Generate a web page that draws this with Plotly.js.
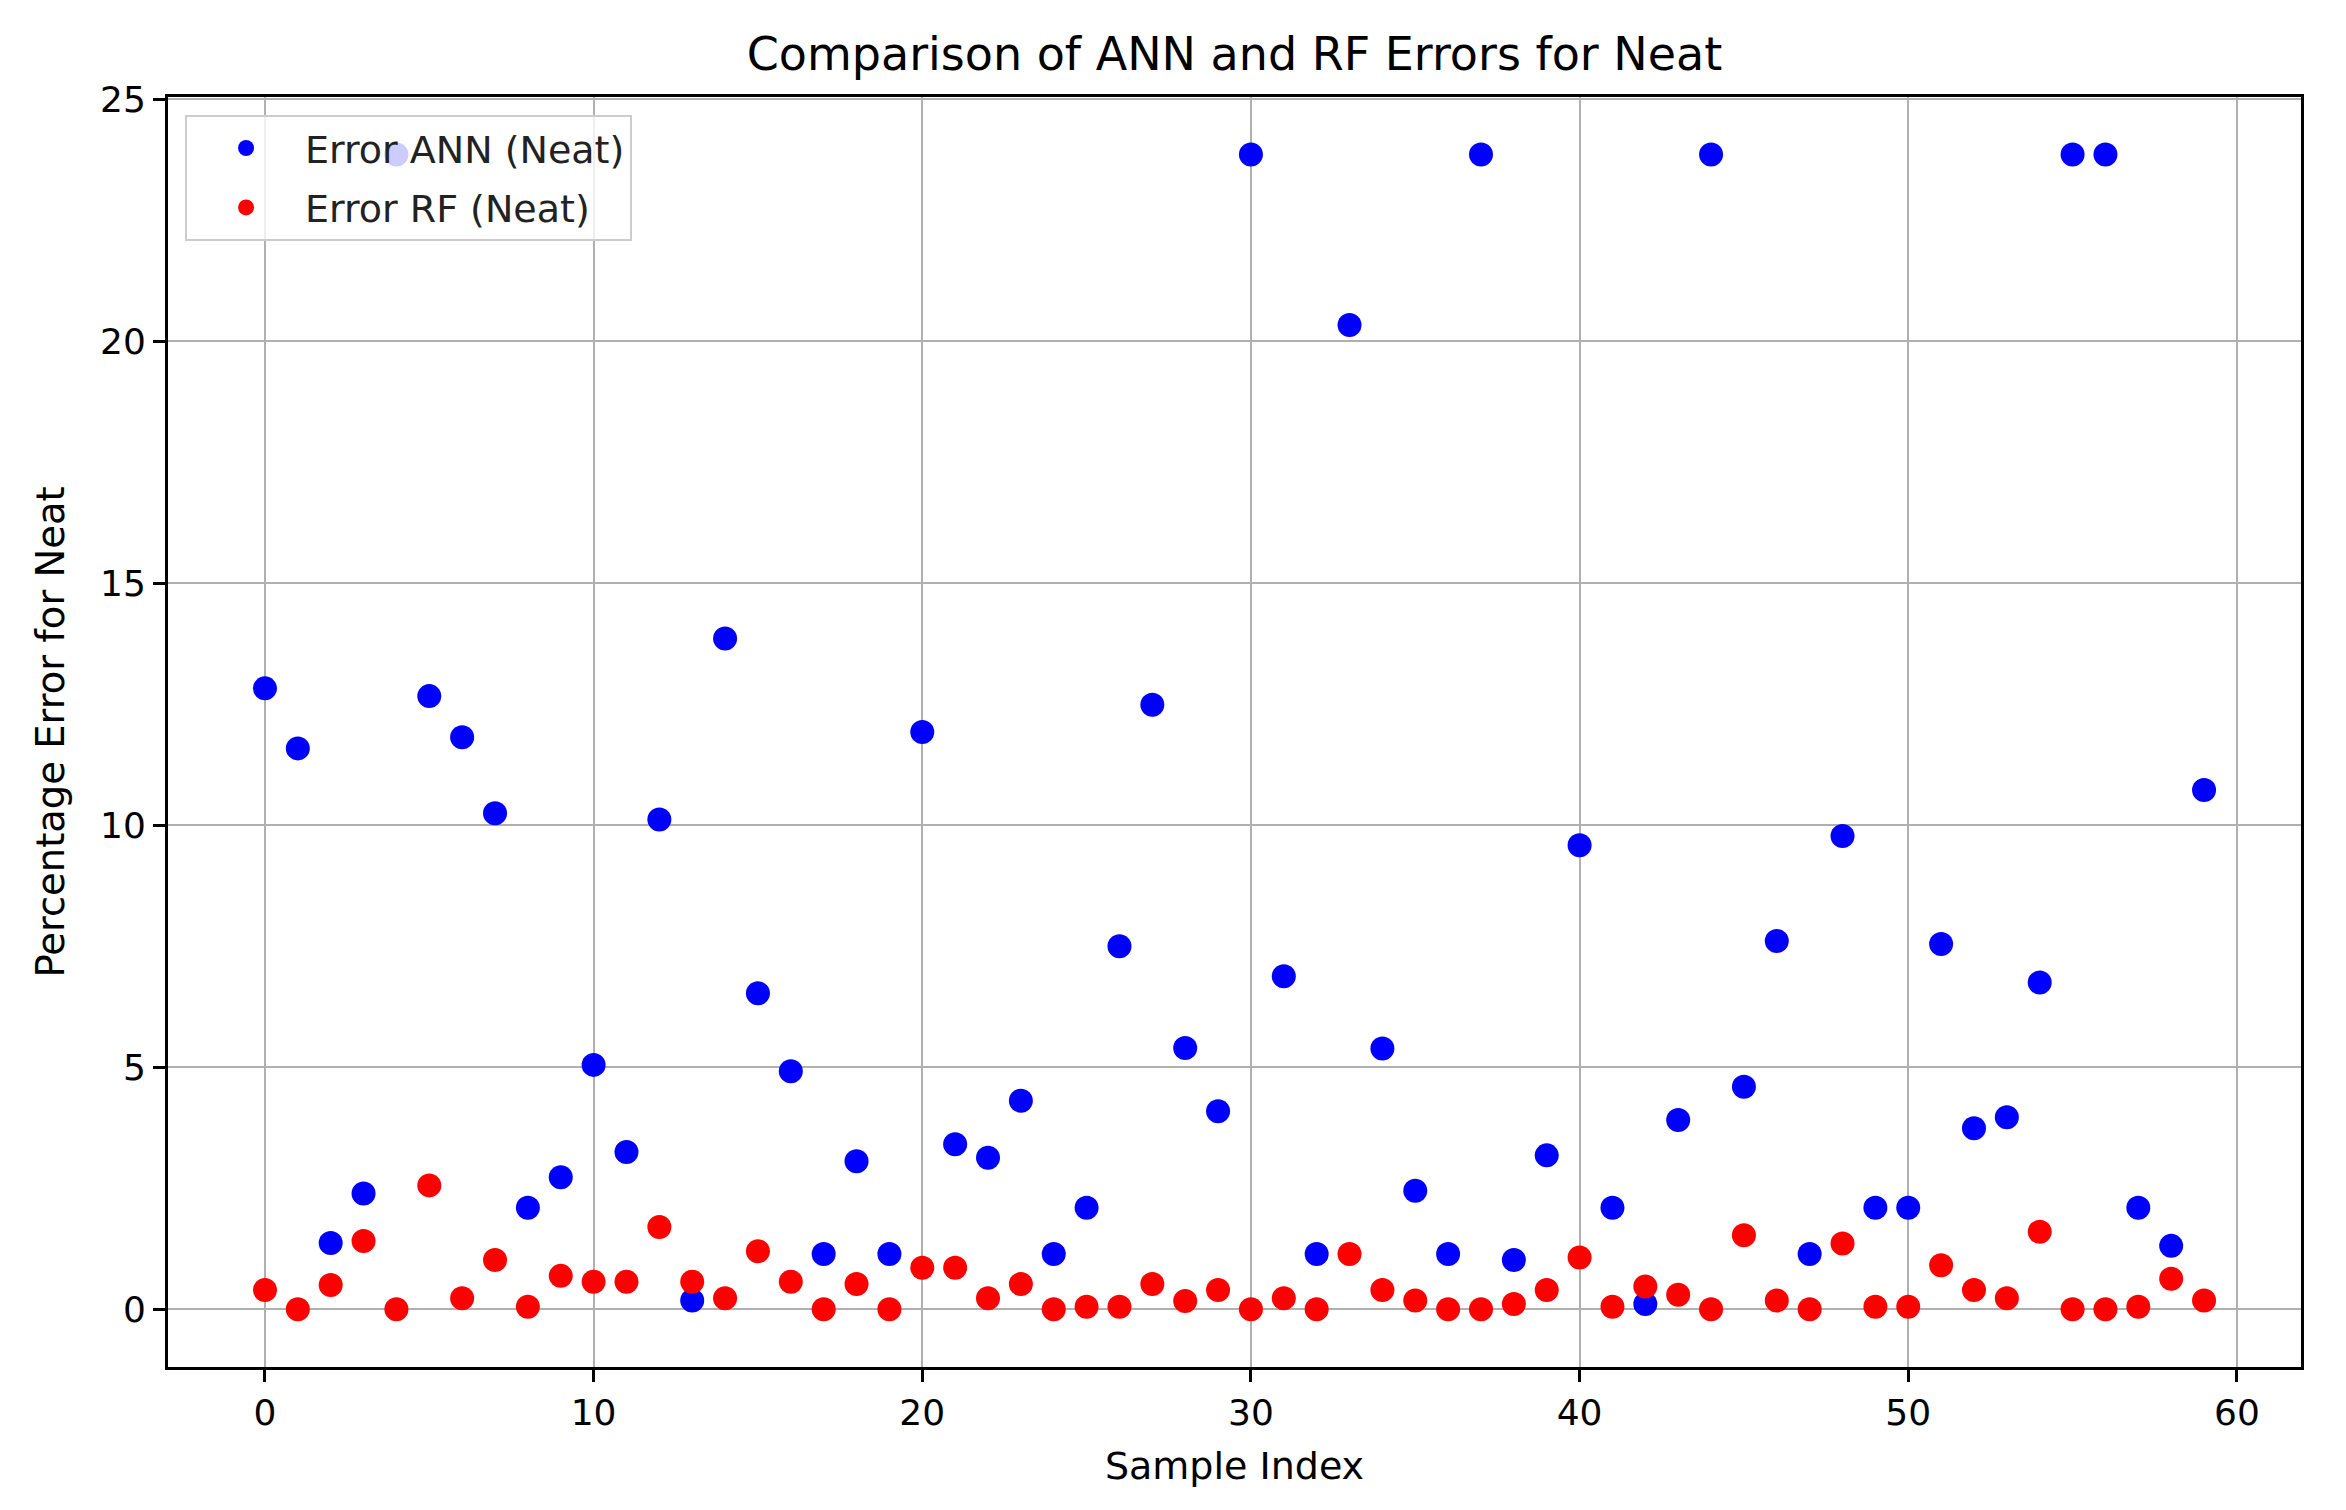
<!DOCTYPE html>
<html>
<head>
<meta charset="utf-8">
<script src="https://cdn.plot.ly/plotly-3.0.1.min.js"></script>
<style>html,body{margin:0;padding:0;background:#fff;}</style>
</head>
<body>
<div id="chart" style="width:2346px;height:1510px;"></div>
<script>
const sampleIndex = Array.from({length: 60}, (_, i) => i);
const errorANN = [
  12.83, 11.59, 1.37, 2.39, 23.86, 12.67, 11.82, 10.25, 2.10, 2.73,
  5.05, 3.25, 10.12, 0.18, 13.86, 6.53, 4.92, 1.14, 3.06, 1.14,
  11.93, 3.41, 3.13, 4.31, 1.14, 2.10, 7.50, 12.49, 5.40, 4.09,
  23.86, 6.88, 1.14, 20.34, 5.39, 2.45, 1.14, 23.86, 1.02, 3.18,
  9.59, 2.10, 0.11, 3.91, 23.86, 4.60, 7.61, 1.14, 9.78, 2.10,
  2.10, 7.55, 3.74, 3.97, 6.75, 23.86, 23.86, 2.10, 1.31, 10.73
];
const errorRF = [
  0.40, 0.00, 0.50, 1.41, 0.00, 2.56, 0.23, 1.02, 0.05, 0.69,
  0.57, 0.57, 1.70, 0.57, 0.23, 1.20, 0.57, 0.00, 0.52, 0.00,
  0.86, 0.86, 0.23, 0.52, 0.00, 0.05, 0.05, 0.52, 0.17, 0.40,
  0.00, 0.23, 0.00, 1.14, 0.40, 0.18, 0.00, 0.00, 0.11, 0.40,
  1.07, 0.05, 0.47, 0.30, 0.00, 1.53, 0.18, 0.00, 1.36, 0.05,
  0.05, 0.91, 0.40, 0.23, 1.60, 0.00, 0.00, 0.05, 0.63, 0.18
];
const seriesNames = ['Error ANN (Neat)', 'Error RF (Neat)'];
const xTicks = [0, 10, 20, 30, 40, 50, 60];
const yTicks = [0, 5, 10, 15, 20, 25];

const font = 'DejaVu Sans, sans-serif';

const traces = [
  {x: sampleIndex, y: errorANN, name: seriesNames[0], legendgroup: 'a', type: 'scatter', mode: 'markers',
   marker: {color: 'blue', size: 24, line: {width: 0}}},
  {x: sampleIndex, y: errorRF, name: seriesNames[1], legendgroup: 'b', type: 'scatter', mode: 'markers',
   marker: {color: 'red', size: 24, line: {width: 0}}}
];

const axisCommon = {
  showline: true, mirror: true, linecolor: 'black', linewidth: 3,
  ticks: 'outside', ticklen: 12, tickwidth: 3, tickcolor: 'black',
  showgrid: true, gridcolor: '#b0b0b0', gridwidth: 2,
  zeroline: false, tickfont: {family: font, size: 36, color: 'black'},
  automargin: false
};

const layout = {
  width: 2346, height: 1510,
  paper_bgcolor: 'white', plot_bgcolor: 'white',
  margin: {l: 168, r: 45, t: 97, b: 143, pad: 0},
  font: {family: font, color: 'black'},
  title: {text: 'Comparison of ANN and RF Errors for Neat', font: {family: font, size: 46, color: 'black'},
          x: 0.5, xref: 'paper', xanchor: 'center', y: 1 - 54/1510, yref: 'container', yanchor: 'middle'},
  xaxis: Object.assign({}, axisCommon, {
    range: [-2.95, 61.95], tickvals: xTicks,
    title: {text: 'Sample Index', font: {family: font, size: 38, color: 'black'}, standoff: 21}
  }),
  yaxis: Object.assign({}, axisCommon, {
    range: [-1.193, 25.05], tickvals: yTicks,
    title: {text: 'Percentage Error for Neat', font: {family: font, size: 38.5, color: 'black'}, standoff: 24}
  }),
  showlegend: true,
  legend: {
    x: 0.008, y: 0.986, xanchor: 'left', yanchor: 'top',
    bgcolor: 'rgba(255,255,255,0.8)', bordercolor: '#cccccc', borderwidth: 2,
    font: {family: font, size: 38, color: '#222'},
    itemwidth: 108, tracegroupgap: 7
  }
};

Plotly.newPlot('chart', traces, layout, {displayModeBar: false, staticPlot: true});
</script>
</body>
</html>
